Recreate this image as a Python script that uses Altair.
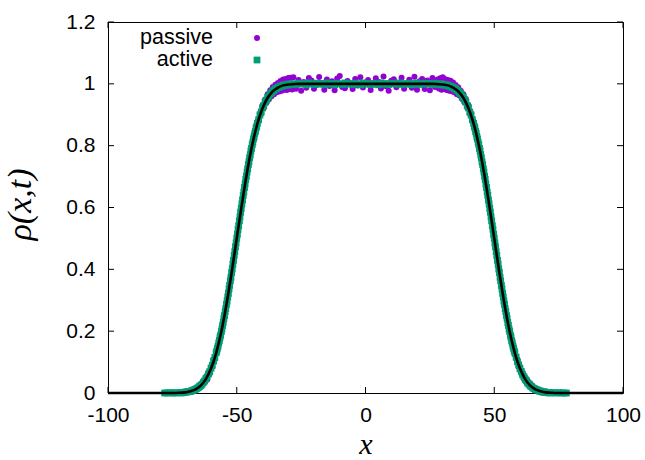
import altair as alt
import pandas as pd

# ---------------- data ----------------
def grid(start, stop, step):
    n = int(round((stop - start) / step)) + 1
    return [round(start + i * step, 4) for i in range(n)]

# sample positions: denser where the profile is steep
x_points = (grid(-78, -73, 1) + grid(-72, -58.5, 0.5) + grid(-58, -42.25, 0.25)
            + grid(-42, -28.5, 0.5) + grid(-28, 28, 1) + grid(28.5, 42, 0.5)
            + grid(42.25, 58, 0.25) + grid(58.5, 72, 0.5) + grid(73, 78, 1))

passive_rho = [
    # A  x=-78..-73
    0.001, 0.000, 0.000, 0.002, 0.000, 0.001,
    # B  x=-72..-58.5
    0.002, 0.000, 0.003, 0.001, 0.004, 0.002, 0.006, 0.003, 0.008, 0.005,
    0.011, 0.008, 0.015, 0.012, 0.021, 0.017, 0.028, 0.025, 0.038, 0.035,
    0.051, 0.043, 0.066, 0.063, 0.085, 0.084, 0.109, 0.110,
    # C  x=-58..-42.25
    0.135, 0.131, 0.150, 0.147, 0.158, 0.176, 0.174, 0.194, 0.193, 0.214,
    0.212, 0.235, 0.234, 0.257, 0.256, 0.280, 0.281, 0.304, 0.305, 0.329,
    0.331, 0.355, 0.357, 0.381, 0.384, 0.408, 0.411, 0.436, 0.439, 0.464,
    0.467, 0.492, 0.495, 0.520, 0.523, 0.548, 0.551, 0.576, 0.579, 0.604,
    0.606, 0.631, 0.633, 0.657, 0.659, 0.683, 0.685, 0.708, 0.709, 0.732,
    0.733, 0.755, 0.755, 0.777, 0.777, 0.798, 0.797, 0.817, 0.816, 0.836,
    0.834, 0.852, 0.851, 0.868,
    # D  x=-42..-28.5
    0.878, 0.879, 0.905, 0.903, 0.930, 0.922, 0.949, 0.939, 0.966, 0.950,
    0.979, 0.960, 0.990, 0.966, 0.997, 0.973, 1.003, 0.975, 1.009, 0.978,
    1.014, 0.981, 1.016, 0.980, 1.019, 0.983, 1.020, 0.982,
    # E  x=-28..28
    1.021, 0.984, 1.012, 0.978, 1.006, 0.987, 1.019, 1.011, 0.984, 0.996,
    1.022, 1.003, 0.981, 1.014, 0.993, 1.008, 0.979, 1.017, 1.025, 0.990,
    0.986, 1.009, 1.001, 0.983, 1.016, 0.995, 1.021, 0.988, 1.004, 1.012,
    0.980, 0.997, 1.018, 1.007, 0.985, 1.024, 0.992, 0.978, 1.010, 1.015,
    0.989, 1.002, 1.020, 0.984, 0.999, 1.013, 0.987, 1.023, 0.981, 1.008,
    1.016, 0.983, 1.011, 0.979, 1.019, 0.990, 1.014,
    # F  x=28.5..42
    0.985, 1.018, 0.981, 1.021, 0.984, 1.015, 0.980, 1.012, 0.978, 1.010,
    0.976, 1.004, 0.973, 0.996, 0.966, 0.989, 0.962, 0.978, 0.951, 0.966,
    0.940, 0.951, 0.923, 0.930, 0.903, 0.905, 0.879, 0.878,
    # G  x=42.25..58
    0.868, 0.851, 0.852, 0.834, 0.835, 0.816, 0.817, 0.797, 0.797, 0.777,
    0.776, 0.755, 0.754, 0.733, 0.731, 0.709, 0.707, 0.685, 0.682, 0.659,
    0.656, 0.633, 0.630, 0.606, 0.603, 0.579, 0.575, 0.551, 0.547, 0.523,
    0.519, 0.495, 0.491, 0.467, 0.463, 0.439, 0.435, 0.411, 0.407, 0.384,
    0.380, 0.357, 0.354, 0.331, 0.328, 0.305, 0.303, 0.281, 0.279, 0.257,
    0.256, 0.235, 0.234, 0.213, 0.213, 0.193, 0.193, 0.174, 0.175, 0.156,
    0.158, 0.139, 0.142, 0.124,
    # H  x=58.5..72
    0.110, 0.108, 0.084, 0.086, 0.063, 0.066, 0.046, 0.051, 0.034, 0.039,
    0.024, 0.030, 0.016, 0.021, 0.011, 0.015, 0.007, 0.011, 0.004, 0.008,
    0.002, 0.006, 0.001, 0.004, 0.000, 0.003, 0.000, 0.002,
    # I  x=73..78
    0.000, 0.001, 0.000, 0.002, 0.000, 0.001,
]

active_rho = [
    # A
    0.000, 0.000, 0.001, 0.000, 0.000, 0.001,
    # B
    0.001, 0.000, 0.002, 0.002, 0.003, 0.003, 0.004, 0.005, 0.005, 0.007,
    0.009, 0.010, 0.012, 0.015, 0.017, 0.021, 0.024, 0.028, 0.034, 0.039,
    0.046, 0.052, 0.061, 0.069, 0.080, 0.090, 0.103, 0.115,
    # C
    0.130, 0.136, 0.145, 0.152, 0.162, 0.169, 0.180, 0.187, 0.199, 0.207,
    0.219, 0.228, 0.241, 0.250, 0.263, 0.273, 0.287, 0.297, 0.311, 0.322,
    0.337, 0.348, 0.363, 0.374, 0.390, 0.401, 0.417, 0.429, 0.445, 0.457,
    0.473, 0.485, 0.501, 0.513, 0.529, 0.541, 0.557, 0.569, 0.585, 0.597,
    0.612, 0.624, 0.639, 0.650, 0.665, 0.676, 0.691, 0.701, 0.715, 0.725,
    0.739, 0.748, 0.761, 0.770, 0.783, 0.791, 0.803, 0.811, 0.822, 0.829,
    0.840, 0.846, 0.857, 0.862,
    # D
    0.872, 0.884, 0.899, 0.909, 0.922, 0.930, 0.941, 0.947, 0.956, 0.960,
    0.968, 0.971, 0.977, 0.979, 0.984, 0.985, 0.989, 0.989, 0.993, 0.992,
    0.996, 0.995, 0.997, 0.996, 0.999, 0.997, 1.000, 0.998,
    # E
    1.000, 0.998, 1.002, 0.999, 1.001, 0.997, 1.003, 1.000, 0.998, 1.002,
    0.999, 1.001, 0.998, 1.003, 0.999, 1.001, 0.997, 1.002, 1.000, 0.998,
    1.003, 0.999, 1.001, 0.998, 1.002, 1.000, 0.997, 1.003, 0.999, 1.001,
    0.998, 1.002, 1.000, 0.997, 1.003, 0.999, 1.001, 0.998, 1.002, 1.000,
    0.999, 1.003, 0.998, 1.001, 0.999, 1.002, 0.997, 1.001, 1.003, 0.998,
    1.000, 1.002, 0.999, 1.001, 0.998, 1.002, 1.000,
    # F
    0.998, 1.000, 0.997, 0.999, 0.996, 0.997, 0.995, 0.996, 0.992, 0.993,
    0.989, 0.989, 0.985, 0.984, 0.979, 0.977, 0.971, 0.968, 0.960, 0.956,
    0.947, 0.941, 0.930, 0.922, 0.909, 0.899, 0.884, 0.872,
    # G
    0.862, 0.857, 0.846, 0.840, 0.829, 0.822, 0.811, 0.803, 0.791, 0.783,
    0.770, 0.761, 0.748, 0.739, 0.725, 0.715, 0.701, 0.691, 0.676, 0.665,
    0.650, 0.639, 0.624, 0.612, 0.597, 0.585, 0.569, 0.557, 0.541, 0.529,
    0.513, 0.501, 0.485, 0.473, 0.457, 0.445, 0.429, 0.417, 0.401, 0.390,
    0.374, 0.363, 0.348, 0.337, 0.322, 0.311, 0.297, 0.287, 0.273, 0.263,
    0.250, 0.241, 0.228, 0.219, 0.207, 0.199, 0.187, 0.180, 0.169, 0.162,
    0.152, 0.145, 0.136, 0.130,
    # H
    0.116, 0.101, 0.091, 0.078, 0.070, 0.059, 0.053, 0.044, 0.040, 0.032,
    0.029, 0.023, 0.021, 0.016, 0.015, 0.011, 0.010, 0.009, 0.006, 0.006,
    0.004, 0.003, 0.004, 0.002, 0.001, 0.002, 0.000, 0.001,
    # I
    0.001, 0.000, 0.001, 0.000, 0.000, 0.000,
]

line_x = list(range(-100, 101, 2))
line_rho = [
    0.000, 0.000, 0.000, 0.000, 0.000, 0.000, 0.000, 0.000, 0.000, 0.000, 0.000,
    0.000, 0.000, 0.000, 0.001, 0.002, 0.006, 0.012, 0.024, 0.045, 0.079,
    0.129, 0.198, 0.286, 0.389, 0.500, 0.611, 0.714, 0.802, 0.871, 0.921,
    0.955, 0.976, 0.988, 0.995, 0.998, 0.999,
    1.000, 1.000, 1.000, 1.000, 1.000, 1.000, 1.000, 1.000, 1.000, 1.000,
    1.000, 1.000, 1.000, 1.000, 1.000, 1.000, 1.000, 1.000, 1.000, 1.000,
    1.000, 1.000, 1.000, 1.000, 1.000, 1.000, 1.000,
    0.999, 0.998, 0.995, 0.988, 0.976, 0.955,
    0.921, 0.871, 0.802, 0.714, 0.611, 0.500, 0.389, 0.286, 0.198, 0.129,
    0.079, 0.045, 0.024, 0.012, 0.006, 0.002, 0.001, 0.000, 0.000, 0.000,
    0.000, 0.000, 0.000, 0.000, 0.000, 0.000, 0.000, 0.000, 0.000, 0.000, 0.000,
]

x_ticks = [-100, -50, 0, 50, 100]
y_ticks = [0, 0.2, 0.4, 0.6, 0.8, 1.0, 1.2]
legend_labels = ["passive", "active"]

assert len(passive_rho) == len(x_points) == len(active_rho), (len(passive_rho), len(x_points), len(active_rho))
assert len(line_rho) == len(line_x)

# ---------------- chart ----------------
W, H = 515, 371
PURPLE = "#9400d3"
GREEN = "#009e73"

pts = pd.DataFrame({"x": x_points, "passive": passive_rho, "active": active_rho})
line_df = pd.DataFrame({"x": line_x, "rho": line_rho})
xt_df = pd.DataFrame({"x": x_ticks})
yt_df = pd.DataFrame({"rho": y_ticks})
one = pd.DataFrame({"k": [0]})

xscale = alt.Scale(domain=[-100, 100], nice=False, zero=False)
yscale = alt.Scale(domain=[0, 1.2], nice=False, zero=False)

xaxis = alt.Axis(
    values=x_ticks, ticks=False, grid=False, domain=False,
    labelExpr="replace(datum.label, '\u2212', '-')",
    labelFont="Liberation Sans", labelFontSize=21, labelColor="black",
    labelPadding=11, labelFlush=False,
    title="x", titleFont="Liberation Serif", titleFontStyle="italic",
    titleFontWeight="normal", titleFontSize=30, titleColor="black",
    titleX=W / 2, titleY=66, titleBaseline="bottom", titleAlign="center",
)
yaxis = alt.Axis(
    values=y_ticks, format="~g", ticks=False, grid=False, domain=False,
    labelFont="Liberation Sans", labelFontSize=21, labelColor="black",
    labelPadding=13, labelFlush=False,
    title="ρ(x,t)", titleFont="Liberation Serif", titleFontStyle="italic",
    titleFontWeight="normal", titleFontSize=34, titleColor="black",
    titleX=-78, titleY=182, titleBaseline="alphabetic", titleAlign="center",
    titleAngle=270,
)

def X(field):
    return alt.X(f"{field}:Q", scale=xscale, axis=xaxis)

def Y(field):
    return alt.Y(f"{field}:Q", scale=yscale, axis=yaxis)

passive = alt.Chart(pts).mark_circle(size=36, color=PURPLE, opacity=1).encode(
    x=X("x"), y=Y("passive"))
active = alt.Chart(pts).mark_square(size=46, color=GREEN, opacity=1).encode(
    x=X("x"), y=Y("active"))
theory = alt.Chart(line_df).mark_line(color="black", strokeWidth=2.6, interpolate="monotone").encode(
    x=X("x"), y=Y("rho"))

TL = 6
tick_style = dict(color="black", strokeWidth=1)
bottom_t = alt.Chart(xt_df).mark_rule(**tick_style).encode(
    x=X("x"), y=alt.value(H), y2=alt.value(H - TL))
top_t = alt.Chart(xt_df).mark_rule(**tick_style).encode(
    x=X("x"), y=alt.value(0), y2=alt.value(TL))
left_t = alt.Chart(yt_df).mark_rule(**tick_style).encode(
    y=Y("rho"), x=alt.value(0), x2=alt.value(TL))
right_t = alt.Chart(yt_df).mark_rule(**tick_style).encode(
    y=Y("rho"), x=alt.value(W), x2=alt.value(W - TL))

# key (gnuplot style: right-aligned label, sample to its right)
LX, SX = 105, 149
LY = [16, 38]
key_text = [
    alt.Chart(one).mark_text(align="right", baseline="middle", font="Liberation Sans",
                             fontSize=21.5, color="black", text=legend_labels[i]).encode(
        x=alt.value(LX), y=alt.value(LY[i]))
    for i in range(2)
]
key_p = alt.Chart(one).mark_circle(size=36, color=PURPLE, opacity=1).encode(
    x=alt.value(SX), y=alt.value(LY[0]))
key_a = alt.Chart(one).mark_square(size=46, color=GREEN, opacity=1).encode(
    x=alt.value(SX), y=alt.value(LY[1]))

chart = alt.layer(
    passive, active, theory, bottom_t, top_t, left_t, right_t,
    key_text[0], key_text[1], key_p, key_a,
).properties(
    width=W, height=H,
    autosize=alt.AutoSizeParams(type="none"),
    padding={"left": 108, "top": 22, "right": 22, "bottom": 67},
    background="white",
).configure_view(stroke="black", strokeWidth=1)

chart.save("out.html", embed_options={"renderer": "svg", "actions": False})
